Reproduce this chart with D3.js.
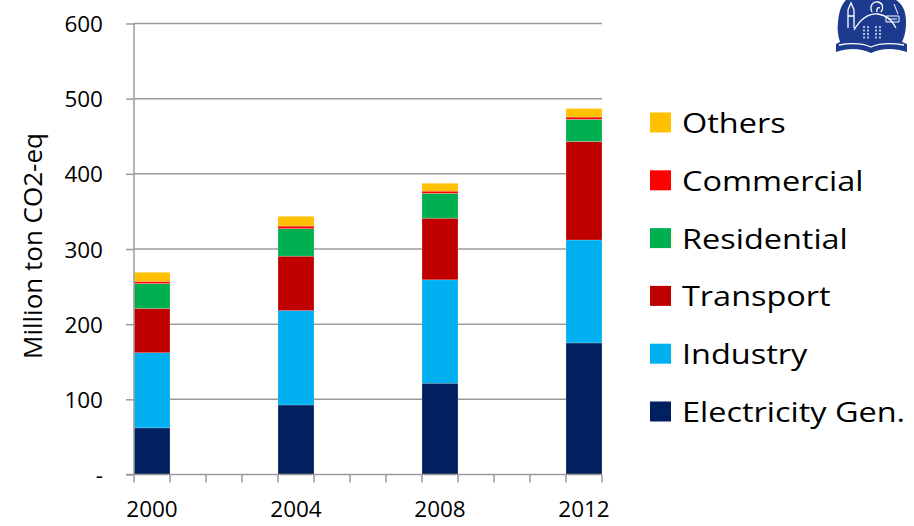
<!DOCTYPE html>
<html>
<head>
<meta charset="utf-8">
<script src="https://cdn.jsdelivr.net/npm/d3@7"></script>
<style>
  html, body { margin: 0; padding: 0; background: #fff; }
  svg { display: block; }
  text { font-family: "Open Sans", "DejaVu Sans", sans-serif; fill: #000; }
</style>
</head>
<body>
<svg id="chart" width="914" height="526"></svg>
<script>
// Emissions by sector, million ton CO2-eq
const years = ["2000","2001","2002","2003","2004","2005","2006","2007","2008","2009","2010","2011","2012"];
const labelledYears = ["2000","2004","2008","2012"];
const sectors = ["Electricity Gen.","Industry","Transport","Residential","Commercial","Others"];
const colors = ["#002060","#00B0F0","#C00000","#00B050","#FF0000","#FFC000"];

const electricity = [62, 92.5, 121.5, 175];
const industry    = [100, 125.5, 137.5, 137];
const transport   = [59, 72.5, 82, 131];
const residential = [33, 36.5, 33, 29.5];
const commercial  = [3, 3.5, 3, 3];
const others      = [12, 13, 10.5, 11.5];

const yTicks = [0, 100, 200, 300, 400, 500, 600];

const rows = labelledYears.map((yr, i) => ({
  year: yr,
  "Electricity Gen.": electricity[i],
  "Industry": industry[i],
  "Transport": transport[i],
  "Residential": residential[i],
  "Commercial": commercial[i],
  "Others": others[i]
}));

const svg = d3.select("#chart");
const plotLeft = 134, plotRight = 602, plotTop = 23.5, plotBottom = 474.5;

const x = d3.scaleBand().domain(years).range([plotLeft, plotRight]).padding(0);
const y = d3.scaleLinear().domain([0, 600]).range([plotBottom, plotTop]);
const color = d3.scaleOrdinal().domain(sectors).range(colors);

const gridColor = "#9a9a9a";

// horizontal gridlines
svg.append("g")
  .selectAll("line")
  .data(yTicks.filter(d => d > 0))
  .join("line")
  .attr("x1", plotLeft).attr("x2", plotRight)
  .attr("y1", d => y(d)).attr("y2", d => y(d))
  .attr("stroke", gridColor).attr("stroke-width", 1.5);

// stacked bars
const stacked = d3.stack().keys(sectors)(rows);
svg.append("g")
  .selectAll("g")
  .data(stacked)
  .join("g")
  .attr("fill", d => color(d.key))
  .selectAll("rect")
  .data(d => d)
  .join("rect")
  .attr("x", d => x(d.data.year))
  .attr("width", x.bandwidth())
  .attr("y", d => y(d[1]))
  .attr("height", d => y(d[0]) - y(d[1]))
  .attr("stroke", "rgba(255,255,255,0.35)")
  .attr("stroke-width", 0.6);

// y axis
const yAxis = d3.axisLeft(y)
  .tickValues(yTicks)
  .tickSize(8)
  .tickPadding(23)
  .tickFormat(d => d === 0 ? "-" : d);
const gy = svg.append("g").attr("transform", `translate(${plotLeft},0)`).call(yAxis);
gy.select(".domain").attr("stroke", gridColor).attr("stroke-width", 1.5)
  .attr("d", `M0,${plotTop}V${plotBottom}`);
gy.selectAll(".tick line").attr("stroke", gridColor).attr("stroke-width", 1.5);
gy.selectAll(".tick text")
  .style("font-family", "'Open Sans', sans-serif")
  .style("font-size", "22.5px")
  .attr("fill", "#000")
  .attr("dy", "0.36em");

// x axis: tick marks at category boundaries
const boundaries = years.map(d => x(d)).concat([x(years[years.length - 1]) + x.bandwidth()]);
const gx = svg.append("g");
gx.append("line")
  .attr("x1", plotLeft - 8).attr("x2", plotRight)
  .attr("y1", plotBottom).attr("y2", plotBottom)
  .attr("stroke", gridColor).attr("stroke-width", 1.5);
gx.selectAll("line.tick")
  .data(boundaries)
  .join("line")
  .attr("class", "tick")
  .attr("x1", d => d).attr("x2", d => d)
  .attr("y1", plotBottom).attr("y2", plotBottom + 8)
  .attr("stroke", gridColor).attr("stroke-width", 1.5);
gx.selectAll("text")
  .data(labelledYears)
  .join("text")
  .attr("x", d => x(d) + x.bandwidth() / 2)
  .attr("y", 517)
  .attr("text-anchor", "middle")
  .style("font-size", "22.5px")
  .text(d => d);

// y axis title
svg.append("text")
  .attr("transform", "translate(42,246) rotate(-90)")
  .attr("text-anchor", "middle")
  .style("font-size", "26px")
  .text("Million ton CO2-eq");

// legend (top item is the last series)
const legendItems = sectors.slice().reverse();
const legend = svg.append("g").attr("transform", "translate(650,112.5)");
const lg = legend.selectAll("g")
  .data(legendItems)
  .join("g")
  .attr("transform", (d, i) => `translate(0,${i * 57.8})`);
lg.append("rect")
  .attr("width", 21).attr("height", 20)
  .attr("fill", d => color(d));
lg.append("text")
  .attr("transform", "translate(32,20.5) scale(1.18,1)")
  .style("font-size", "27.5px")
  .text(d => d);

// emblem, top right
const defs = svg.append("defs");
defs.append("filter").attr("id", "soft")
  .append("feGaussianBlur").attr("stdDeviation", 0.6);
const logo = svg.append("g").attr("transform", "translate(836,0)").attr("filter", "url(#soft)");
logo.append("path")
  .attr("d", "M10,0 L60,0 C66,4 70,10 70,22 C70,32 68,38 66,42 L71,44 L71,52 C58,48 46,48 35,53 C24,48 12,48 0,52 L0,44 L4,42 C2,36 1,30 2,22 C3,12 5,5 10,0 Z")
  .attr("fill", "#1d3a8f");
const white = logo.append("g").attr("fill", "none").attr("stroke", "#fff").attr("stroke-width", 1.3);
// book page line
white.append("path").attr("d", "M3,45 C14,43 26,43 35,47 C44,43 56,43 68,45");
// tower on the left
white.append("path").attr("d", "M12,28 L12,10 L15,3 L18,10 L18,28 M12,16 L18,16");
// figure body and legs
white.append("path").attr("d", "M18,30 C24,20 32,13 42,14 C50,15 56,20 60,28");
white.append("path").attr("d", "M28,26 L28,40 M32,26 L32,40 M40,26 L40,40 M44,26 L44,40").attr("stroke-dasharray", "2,1.5");
// head
white.append("path").attr("d", "M36,12 C33,6 37,1 42,2 C47,3 48,8 45,12 M41,12 C40,9 42,7 44,8");
// panel on the right
white.append("path").attr("d", "M50,16 L63,16 L63,22 L50,22 Z M52,19 L61,19").attr("stroke-width", 1);
white.append("path").attr("d", "M58,4 L62,14").attr("stroke-width", 1);
</script>
</body>
</html>
